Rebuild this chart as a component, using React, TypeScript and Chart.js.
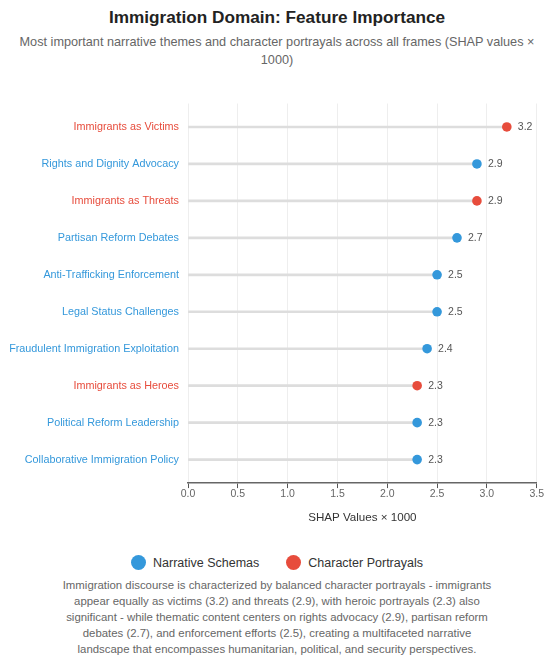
import React, { useEffect, useRef } from "react";
import { Chart, registerables } from "chart.js";

Chart.register(...registerables);

const categories = [
  "Immigrants as Victims",
  "Rights and Dignity Advocacy",
  "Immigrants as Threats",
  "Partisan Reform Debates",
  "Anti-Trafficking Enforcement",
  "Legal Status Challenges",
  "Fraudulent Immigration Exploitation",
  "Immigrants as Heroes",
  "Political Reform Leadership",
  "Collaborative Immigration Policy",
];
const values = [3.2, 2.9, 2.9, 2.7, 2.5, 2.5, 2.4, 2.3, 2.3, 2.3];
const featureTypes = [
  "character",
  "narrative",
  "character",
  "narrative",
  "narrative",
  "narrative",
  "narrative",
  "character",
  "narrative",
  "narrative",
];
const seriesNames = ["Narrative Schemas", "Character Portrayals"];
const seriesKeys = ["narrative", "character"];
const seriesColors = ["#3498db", "#e74c3c"];
const xMin = 0;
const xMax = 3.5;
const xStep = 0.5;

const captionLines = [
  "Immigration discourse is characterized by balanced character portrayals - immigrants",
  "appear equally as victims (3.2) and threats (2.9), with heroic portrayals (2.3) also",
  "significant - while thematic content centers on rights advocacy (2.9), partisan reform",
  "debates (2.7), and enforcement efforts (2.5), creating a multifaceted narrative",
  "landscape that encompasses humanitarian, political, and security perspectives.",
];

const FONT = '"Liberation Sans", Arial, Helvetica, sans-serif';

const colorFor = (t: string) => seriesColors[seriesKeys.indexOf(t)];

const valueLabels = {
  id: "valueLabels",
  afterDatasetsDraw(chart: any) {
    const ctx = chart.ctx;
    ctx.save();
    ctx.font = `10.5px ${FONT}`;
    ctx.fillStyle = "#555";
    ctx.textAlign = "left";
    ctx.textBaseline = "middle";
    chart.data.datasets.forEach((ds: any, di: number) => {
      if (ds.type !== "line") return;
      const meta = chart.getDatasetMeta(di);
      meta.data.forEach((el: any, i: number) => {
        const v = ds.data[i].x;
        ctx.fillText(v.toFixed(1), el.x + 11, el.y);
      });
    });
    ctx.restore();
  },
};

export default function App() {
  const ref = useRef<HTMLCanvasElement | null>(null);

  useEffect(() => {
    document.documentElement.style.overflow = "hidden";
    if (!ref.current) return;
    const stems = values.map((v, i) => ({ x: v, y: i }));
    const pointSets = seriesKeys.map((key, si) => ({
      type: "line" as const,
      label: seriesNames[si],
      data: values
        .map((v, i) => ({ x: v, y: i, t: featureTypes[i] }))
        .filter((d) => d.t === key)
        .map((d) => ({ x: d.x, y: d.y })),
      showLine: false,
      pointRadius: 4.8,
      pointHoverRadius: 4.8,
      pointBorderWidth: 0,
      backgroundColor: seriesColors[si],
      borderColor: seriesColors[si],
      pointBackgroundColor: seriesColors[si],
      order: 1,
    }));

    const chart = new Chart(ref.current, {
      type: "bar",
      data: {
        datasets: [
          {
            type: "bar",
            label: "stems",
            data: stems as any,
            backgroundColor: "#dddddd",
            barThickness: 2,
            order: 2,
          } as any,
          ...(pointSets as any),
        ],
      },
      options: {
        responsive: false,
        animation: false,
        indexAxis: "y",
        layout: { padding: { top: 33.5, bottom: 0, left: 0, right: 0 } },
        plugins: {
          legend: { display: false },
          tooltip: { enabled: false },
          title: { display: false },
        },
        scales: {
          y: {
            type: "linear",
            reverse: true,
            offset: false,
            min: -0.635,
            max: categories.length - 1 + 0.635,
            afterFit: (s: any) => {
              s.width = 188;
            },
            grid: { display: false, drawTicks: false, offset: false },
            border: { display: false },
            ticks: {
              stepSize: 1,
              autoSkip: false,
              padding: 9,
              font: { size: 10.8, family: FONT },
              color: (ctx: any) => {
                const v = ctx.tick ? ctx.tick.value : -1;
                return Number.isInteger(v) && v >= 0 && v < categories.length
                  ? colorFor(featureTypes[v])
                  : "#000";
              },
              callback: (v: any) =>
                Number.isInteger(v) && v >= 0 && v < categories.length ? categories[v] : "",
            },
          },
          x: {
            type: "linear",
            min: xMin,
            max: xMax,
            grid: {
              color: "#eeeeee",
              tickColor: "#555",
              tickLength: 5,
              tickWidth: 1,
              drawTicks: true,
            },
            border: { display: true, color: "#666", width: 1.5 },
            ticks: {
              stepSize: xStep,
              padding: 0,
              color: "#666",
              font: { size: 10.5, family: FONT },
              callback: (v: any) => Number(v).toFixed(1),
            },
            title: {
              display: true,
              text: "SHAP Values × 1000",
              color: "#333",
              font: { size: 11.6, family: FONT },
              padding: { top: 10.4, bottom: 0 },
            },
          },
        },
      },
      plugins: [valueLabels],
    });
    return () => chart.destroy();
  }, []);

  return (
    <div
      style={{
        fontFamily: FONT,
        position: "absolute",
        left: 0,
        top: 0,
        width: 544,
        height: 659,
        paddingTop: 8,
        boxSizing: "border-box",
        background: "#fff",
      }}
    >
      <div style={{ paddingLeft: 10 }}>
        <div
          style={{
            textAlign: "center",
            fontSize: 17.2,
            fontWeight: 700,
            color: "#222",
            lineHeight: "20px",
            marginTop: -1,
          }}
        >
          Immigration Domain: Feature Importance
        </div>
        <div
          style={{
            textAlign: "center",
            fontSize: 12.7,
            color: "#666",
            lineHeight: "18px",
            marginTop: 6,
            padding: "0 4px",
          }}
        >
          Most important narrative themes and character portrayals across all frames (SHAP values × 1000)
        </div>
      </div>
      <canvas ref={ref} width={544} height={455} style={{ display: "block", marginTop: 1 }} />
      <div style={{ paddingLeft: 10 }}>
        <div
          style={{
            display: "flex",
            justifyContent: "center",
            alignItems: "center",
            gap: 27,
            marginTop: 30,
            height: 15,
            fontSize: 12.5,
            color: "#333",
          }}
        >
          {seriesNames.map((n, i) => (
            <div key={n} style={{ display: "flex", alignItems: "center" }}>
              <span
                style={{
                  display: "inline-block",
                  width: 15,
                  height: 15,
                  borderRadius: "50%",
                  background: seriesColors[i],
                  marginRight: 7,
                }}
              />
              <span>{n}</span>
            </div>
          ))}
        </div>
        <div
          style={{
            textAlign: "center",
            fontSize: 11.4,
            color: "#666",
            lineHeight: "16px",
            marginTop: 6.5,
          }}
        >
          {captionLines.map((l) => (
            <div key={l} style={{ whiteSpace: "nowrap" }}>
              {l}
            </div>
          ))}
        </div>
      </div>
    </div>
  );
}
